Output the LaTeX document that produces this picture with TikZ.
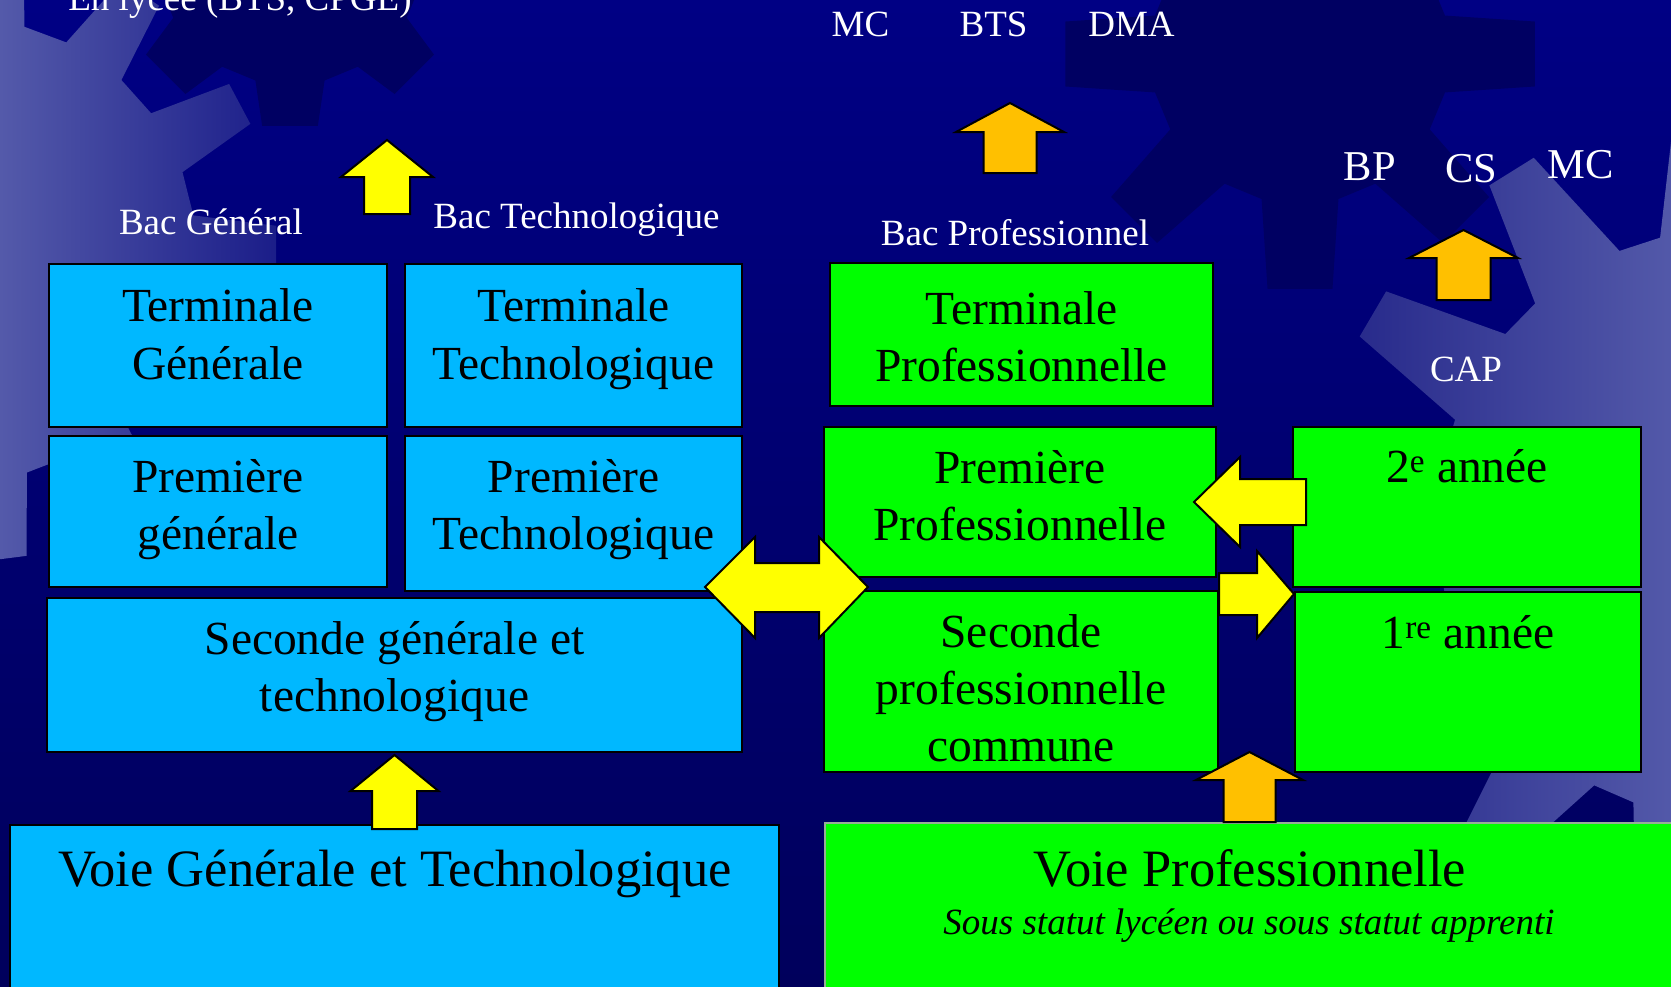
\documentclass[tikz,border=0pt]{standalone}
\usepackage{fontspec}
\setmainfont{Liberation Serif}
\usetikzlibrary{fit}
\definecolor{bgtop}{RGB}{0,0,132}
\definecolor{bgmid}{RGB}{0,0,122}
\definecolor{bgbot}{RGB}{0,0,92}
\definecolor{bgdark}{RGB}{0,0,98}
\definecolor{lav}{RGB}{84,90,170}
\definecolor{lavR}{RGB}{22,24,134}
\definecolor{lavD}{RGB}{32,34,134}
\definecolor{skyb}{RGB}{0,184,255}
\definecolor{grn}{RGB}{0,255,0}
\definecolor{yel}{RGB}{255,255,0}
\definecolor{org}{RGB}{255,192,0}
\definecolor{vpedge}{RGB}{150,175,150}

% gear outline: opts, cx, cy, rin, rout, n, rot, tip half-fraction, base half-fraction
\newcommand\gearpath[9]{%
  \pgfmathsetmacro\mygp{360/#6}%
  \pgfmathtruncatemacro\mygn{#6-1}%
  \path[#1,shift={(#2,#3)}] ({#7-#9*\mygp}:#4pt)
    \foreach \k in {0,...,\mygn}{
      -- ({#7+\k*\mygp-#8*\mygp}:#5pt) -- ({#7+\k*\mygp+#8*\mygp}:#5pt)
      -- ({#7+\k*\mygp+#9*\mygp}:#4pt) -- ({#7+(\k+1)*\mygp-#9*\mygp}:#4pt)}
    -- cycle;}

% vertical block arrow: style, cx, tip y, head half, shaft half, head base y, bottom y
\newcommand\UpBlock[7]{%
  \draw[#1] (#2,#3) -- ({#2+#4},#6) -- ({#2+#5},#6) -- ({#2+#5},#7)
    -- ({#2-#5},#7) -- ({#2-#5},#6) -- ({#2-#4},#6) -- cycle;}

\begin{document}
\begin{tikzpicture}[x=1pt,y=-1pt,
  box/.style={draw=black, line width=2pt, inner sep=0pt, rectangle},
  bbox/.style={box, fill=skyb},
  gbox/.style={box, fill=grn},
  btxt/.style={font=\fontsize{47.5}{57}\selectfont, text=black, inner sep=0pt, anchor=base},
  vtxt/.style={font=\fontsize{52.5}{62}\selectfont, text=black, inner sep=0pt, anchor=base},
  itxt/.style={font=\fontsize{37}{44}\selectfont\itshape, text=black, inner sep=0pt, anchor=base},
  lbl/.style={font=\fontsize{37}{44}\selectfont, text=white, inner sep=0pt, anchor=base},
  lblL/.style={font=\fontsize{42.5}{50}\selectfont, text=white, inner sep=0pt, anchor=base},
  yarr/.style={fill=yel, draw=black, line width=2pt, line join=miter},
  oarr/.style={fill=org, draw=black, line width=2pt, line join=miter}]

\path[use as bounding box] (0,0) rectangle (1671,986);
\clip (0,0) rectangle (1671,986);

% ---------- background ----------
\shade[top color=bgtop, middle color=bgmid, bottom color=bgbot] (0,0) rectangle (1671,986);
\gearpath{fill=bgdark}{290}{-50}{135}{178}{8}{-90}{0.2}{0.33}
\gearpath{fill=bgdark}{1300}{54}{150}{237}{8}{-90}{0.175}{0.33}
\begin{scope}
  \gearpath{clip}{-35}{250}{231}{312}{13}{28}{0.15}{0.3}
  \shade[left color=lav, right color=lavR] (0,-80) rectangle (300,600);
\end{scope}
\begin{scope}
  \gearpath{clip}{1731}{524}{295}{416}{13}{149.6}{0.13}{0.35}
  \shade[left color=lavD, right color=lav] (1300,0) rectangle (1680,986);
\end{scope}

% ---------- boxes ----------
\node[bbox, fit={(49,264) (387,427)}] (tg) {};
\node[bbox, fit={(405,264) (742,427)}] (tt) {};
\node[bbox, fit={(49,436) (387,587)}] (pg) {};
\node[bbox, fit={(405,436) (742,591)}] (pt) {};
\node[bbox, fit={(47,598) (742,752)}] (sg) {};
\node[bbox, fit={(10,825) (779,1000)}] (vg) {};
\node[gbox, fit={(830,263) (1213,406)}] (tp) {};
\node[gbox, fit={(824,427) (1216,577)}] (pp) {};
\node[gbox, fit={(824,591) (1218,772)}] (sp) {};
\node[gbox, fit={(1293,427) (1641,587)}] (y2) {};
\node[gbox, fit={(1295,592) (1641,772)}] (y1) {};
\node[gbox, draw=vpedge, fit={(825,823) (1685,1000)}] (vp) {};

% ---------- box texts ----------
\node[btxt] (tg1) at (218,321) {Terminale};
\node[btxt] (tg2) at (218,379) {Générale};
\node[btxt] (tt1) at (573.5,321) {Terminale};
\node[btxt] (tt2) at (573.5,379) {Technologique};
\node[btxt] (pg1) at (218,492) {Première};
\node[btxt] (pg2) at (218,549) {générale};
\node[btxt] (pt1) at (573.5,492) {Première};
\node[btxt] (pt2) at (573.5,549) {Technologique};
\node[btxt] (sg1) at (394.5,654) {Seconde générale et};
\node[btxt] (sg2) at (394.5,711) {technologique};
\node[btxt] (tp1) at (1021.5,324) {Terminale};
\node[btxt] (tp2) at (1021.5,381) {Professionnelle};
\node[btxt] (pp1) at (1020,483) {Première};
\node[btxt] (pp2) at (1020,540) {Professionnelle};
\node[btxt] (sp1) at (1021,647) {Seconde};
\node[btxt] (sp2) at (1021,704) {professionnelle};
\node[btxt] (sp3) at (1021,761) {commune};
\node[btxt] (y2t) at (1467,482) {2\textsuperscript{e} année};
\node[btxt] (y1t) at (1468,648) {1\textsuperscript{re} année};
\node[vtxt] (vgt) at (395,886) {Voie Générale et Technologique};
\node[vtxt] (vpt) at (1250,886) {Voie Professionnelle};
\node[itxt] (vpi) at (1249,934) {Sous statut lycéen ou sous statut apprenti};

% ---------- labels ----------
\node[lbl] (enlycee) at (240,10) {En lycée (BTS, CPGE)};
\node[lbl] (bacg) at (211,234) {Bac Général};
\node[lbl] (bact) at (576.5,228) {Bac Technologique};
\node[lbl] (mca) at (860.5,36.5) {MC};
\node[lbl] (bts) at (993.5,36.5) {BTS};
\node[lbl] (dma) at (1131.5,36.5) {DMA};
\node[lbl] (bacp) at (1015,245) {Bac Professionnel};
\node[lblL] (bp) at (1369.7,180) {BP};
\node[lblL] (cs) at (1471.3,182) {CS};
\node[lblL] (mcb) at (1581,178.6) {MC};
\node[lbl] (cap) at (1466,381) {CAP};

% ---------- block arrows ----------
\UpBlock{yarr}{387}{140}{46}{23}{177}{214}
\UpBlock{yarr}{394.5}{755}{44}{22.5}{791}{829}
\UpBlock{oarr}{1010}{103}{54}{26.5}{132}{173}
\UpBlock{oarr}{1463.5}{230}{54.5}{27}{258}{300}
\UpBlock{oarr}{1249.5}{752}{53.5}{26}{780}{822}
\draw[yarr] (705,587) -- (755,537) -- (755,563) -- (819,563) -- (819,537)
  -- (868,587) -- (819,638) -- (819,612) -- (755,612) -- (755,638) -- cycle;
\draw[yarr] (1194,502) -- (1240,457) -- (1240,479) -- (1306,479) -- (1306,525)
  -- (1240,525) -- (1240,547) -- cycle;
\draw[yarr] (1294,594) -- (1257,551) -- (1257,573) -- (1219,573) -- (1219,615)
  -- (1257,615) -- (1257,638) -- cycle;
\end{tikzpicture}
\end{document}
